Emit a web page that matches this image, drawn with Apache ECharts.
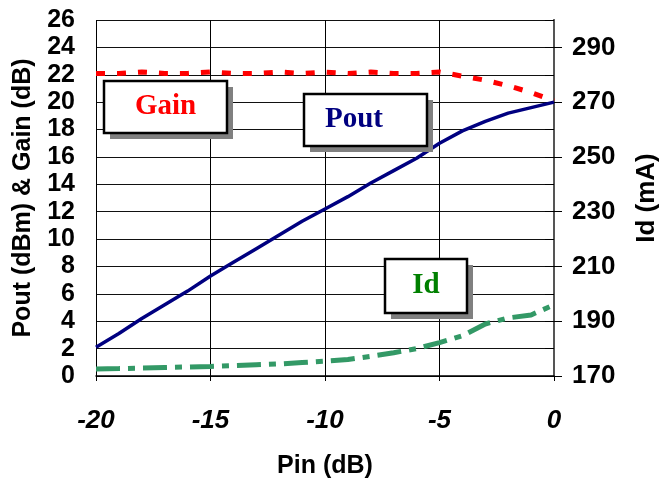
<!DOCTYPE html>
<html><head><meta charset="utf-8">
<script src="https://cdn.jsdelivr.net/npm/echarts@6/dist/echarts.min.js"></script>
<style>html,body{margin:0;padding:0;background:#fff}#c{width:659px;height:482px}</style>
</head><body><div id="c"></div>
<script>
const pin  = [-20,-19,-18,-17,-16,-15,-14,-13,-12,-11,-10,-9,-8,-7,-6,-5,-4,-3,-2,-1,0];
const pout = [2.1,3.1,4.2,5.2,6.2,7.3,8.3,9.3,10.3,11.3,12.2,13.1,14.1,15.0,15.9,17.0,17.9,18.6,19.2,19.6,20.0];
const gain = [22.1,22.1,22.2,22.1,22.1,22.2,22.1,22.1,22.2,22.1,22.2,22.1,22.2,22.1,22.1,22.2,21.9,21.6,21.2,20.7,20.1];
const idmA = [172.6,172.7,172.9,173.1,173.3,173.5,173.8,174.1,174.4,174.9,175.4,176.0,177.2,178.5,180.0,182.2,184.7,189.0,191.2,192.3,196.0];
const rightTicks = [170,190,210,230,250,270,290];

const F = '"Liberation Sans", Arial, sans-serif';
const SERIF = '"Liberation Serif", "Times New Roman", serif';
const pairs = ys => pin.map((x,i)=>[x, ys[i]]);

const chart = echarts.init(document.getElementById('c'), null, {renderer:'canvas'});

function box(x, y, w, h, text, color, tx) {
  return [
    {type:'rect', shape:{x:x+6, y:y+6, width:w, height:h}, style:{fill:'#808080'}, z:100},
    {type:'rect', shape:{x:x, y:y, width:w, height:h}, style:{fill:'#fff', stroke:'#000', lineWidth:2.5}, z:101},
    {type:'text', x: x + (tx!=null?tx:w/2), y: y + h/2, style:{text:text, fill:color, font:'bold 29px '+SERIF, align:'center', verticalAlign:'middle'}, z:102}
  ];
}

chart.setOption({
  animation:false,
  backgroundColor:'#fff',
  grid:{left:96, right:105, top:20, bottom:106, containLabel:false, outerBoundsMode:'none'},
  xAxis:{
    type:'value', min:-20, max:0, interval:5,
    name:'Pin (dB)', nameLocation:'middle', nameGap:78,
    nameTextStyle:{fontFamily:F, fontWeight:'bold', fontSize:25, color:'#000'},
    axisLine:{lineStyle:{color:'#000', width:1.5}},
    axisTick:{show:true, length:5, lineStyle:{color:'#000'}},
    axisLabel:{fontFamily:F, fontWeight:'bold', fontStyle:'italic', fontSize:26, color:'#000', margin:32},
    splitLine:{show:true, lineStyle:{color:'#000', width:1}}
  },
  yAxis:[{
    type:'value', min:0, max:26, interval:2,
    name:'Pout (dBm) & Gain (dB)', nameLocation:'middle', nameGap:60, nameRotate:90,
    nameTextStyle:{fontFamily:F, fontWeight:'bold', fontSize:25, color:'#000'},
    axisLine:{show:true, lineStyle:{color:'#000', width:1.5}},
    axisTick:{show:true, length:9, lineStyle:{color:'#000'}},
    axisLabel:{fontFamily:F, fontWeight:'bold', fontSize:25, color:'#000', margin:21},
    splitLine:{show:true, lineStyle:{color:'#111', width:1}}
  },{
    type:'value', min:170, max:300, interval:10,
    name:'Id (mA)', nameLocation:'middle', nameGap:80, nameRotate:90,
    nameTextStyle:{fontFamily:F, fontWeight:'bold', fontSize:26, color:'#000'},
    axisLine:{show:true, lineStyle:{color:'#555', width:2}},
    axisTick:{show:true, inside:false, length:8, customValues:rightTicks, lineStyle:{color:'#000'}},
    axisLabel:{fontFamily:F, fontWeight:'bold', fontSize:26, color:'#000', margin:18, customValues:rightTicks},
    splitLine:{show:false}
  }],
  series:[
    {name:'Gain', type:'line', yAxisIndex:0, data:pairs(gain), showSymbol:false, symbol:'none', z:3,
     lineStyle:{color:'#ff0000', width:5, type:[9,12]}},
    {name:'Pout', type:'line', yAxisIndex:0, data:pairs(pout), showSymbol:false, symbol:'none', z:4,
     lineStyle:{color:'#000080', width:3.5}},
    {name:'Id', type:'line', yAxisIndex:1, data:pairs(idmA), showSymbol:false, symbol:'none', z:3,
     lineStyle:{color:'#339966', width:5, type:[24,8,7,8]}}
  ],
  graphic:[].concat(
    box(104, 81, 123, 52, 'Gain', '#ff0000'),
    box(304, 94, 123, 52, 'Pout', '#000080', 50),
    box(385, 259, 82, 54, 'Id', '#008000')
  )
});
</script></body></html>
